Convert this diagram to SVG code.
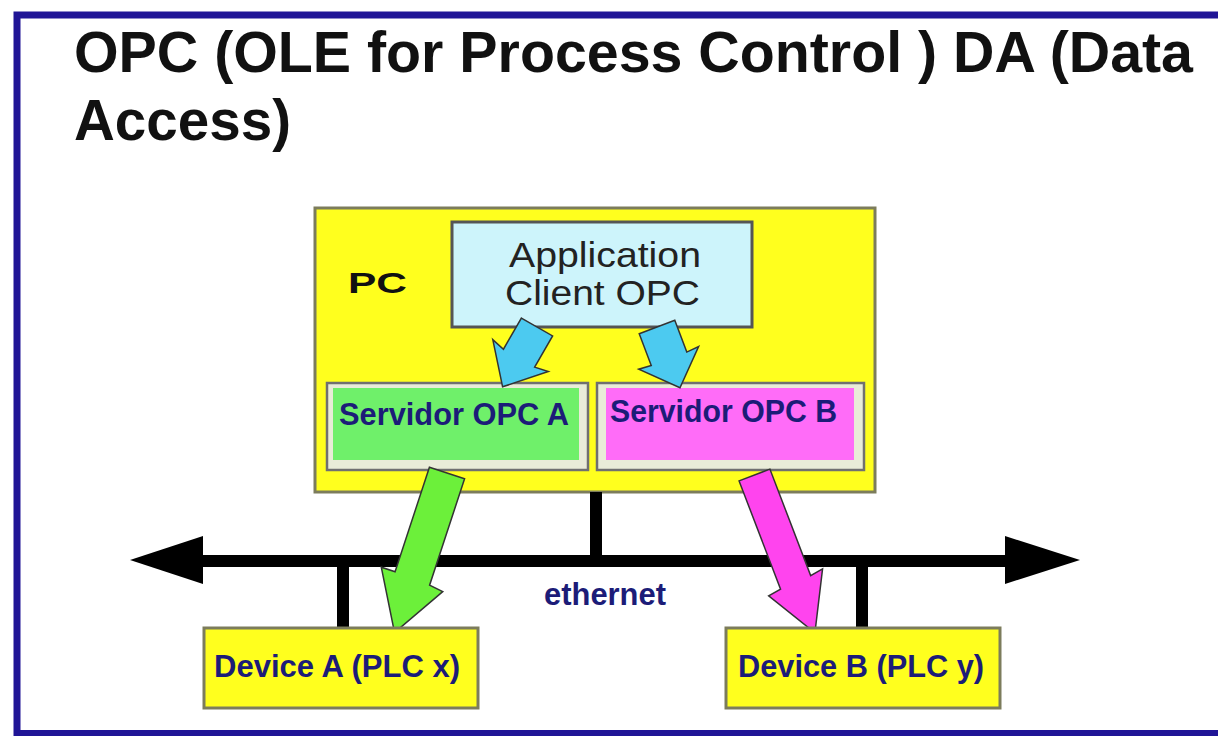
<svg xmlns="http://www.w3.org/2000/svg" width="1218" height="736" viewBox="0 0 1218 736">
<style>
.title{font-family:"Liberation Sans",Arial,sans-serif;font-weight:bold;font-size:57px;fill:#111}
.lbl{font-family:"Liberation Sans",Arial,sans-serif;font-weight:bold;font-size:31px;fill:#1c1c78}
.srv{font-size:32px}
.app{font-family:"Liberation Sans",Arial,sans-serif;font-size:35px;fill:#222}
.pc{font-family:"Liberation Sans",Arial,sans-serif;font-weight:bold;font-size:30px;fill:#111}
.ybox{fill:#ffff1e;stroke:#7c7c5c;stroke-width:3}
.sbox{fill:#e9ecd8;stroke:#707070;stroke-width:2.5}
.bar{stroke:#000;stroke-width:12;fill:none}
.fat{stroke:#333;stroke-width:1.5;stroke-linejoin:miter}
</style>
<rect width="1218" height="736" fill="#ffffff"/>
<path d="M1220,15 H17 V733.5 H1220" fill="none" stroke="#201596" stroke-width="7"/>
<g id="title">
<text class="title" x="74" y="72" textLength="1119" lengthAdjust="spacingAndGlyphs">OPC (OLE for Process Control ) DA (Data</text>
<text class="title" x="74" y="140" textLength="217" lengthAdjust="spacingAndGlyphs">Access)</text>
</g>
<g id="pc">
<rect class="ybox" x="315" y="208" width="560" height="284"/>
<text class="pc" x="348" y="293" textLength="59" lengthAdjust="spacingAndGlyphs">PC</text>
</g>
<g id="connectors">
<line class="bar" x1="596" y1="492" x2="596" y2="561"/>
<line class="bar" x1="195" y1="561" x2="1012" y2="561"/>
<polygon points="130,560 203,536 203,584" fill="#000"/>
<polygon points="1080,560 1005,536 1005,584" fill="#000"/>
<line class="bar" x1="343" y1="561" x2="343" y2="628"/>
<line class="bar" x1="862" y1="561" x2="862" y2="628"/>
</g>
<g id="app">
<rect x="452" y="222" width="300" height="105" fill="#cdf4fb" stroke="#555" stroke-width="3"/>
<text class="app" x="509" y="267" textLength="192" lengthAdjust="spacingAndGlyphs">Application</text>
<text class="app" x="505" y="305" textLength="195" lengthAdjust="spacingAndGlyphs">Client OPC</text>
</g>
<g id="servA">
<rect class="sbox" x="327" y="383" width="261" height="87"/>
<rect x="333" y="388" width="246" height="72" fill="#6ff06a"/>
<text class="lbl srv" x="339" y="425" textLength="230" lengthAdjust="spacingAndGlyphs">Servidor OPC A</text>
</g>
<g id="servB">
<rect class="sbox" x="597" y="383" width="267" height="87"/>
<rect x="606" y="388" width="248" height="72" fill="#ff6cf8"/>
<text class="lbl srv" x="610" y="422" textLength="227" lengthAdjust="spacingAndGlyphs">Servidor OPC B</text>
</g>
<g id="flows">
<polygon class="fat" fill="#4ccaf0" transform="translate(537,327) rotate(29.9)" points="-18,0 18,0 18,36 32,33 0,69 -32,33 -18,36"/>
<polygon class="fat" fill="#4ccaf0" transform="translate(657,327) rotate(-20.7)" points="-19,0 19,0 19,34 32,33 0,65 -32,33 -19,34"/>
<polygon class="fat" fill="#6cf03a" transform="translate(447,473) rotate(18.2)" points="-18.5,0 18.5,0 18.5,112 33,114 0,168 -33,110 -18.5,110"/>
<polygon class="fat" fill="#ff44ee" transform="translate(754.5,475) rotate(-20.95)" points="-16.5,0 16.5,0 16.5,114 30,112 0,169 -30,118 -16.5,116"/>
</g>
<g id="devA">
<rect class="ybox" x="204" y="628" width="274" height="80"/>
<text class="lbl" x="214" y="677" textLength="246" lengthAdjust="spacingAndGlyphs">Device A (PLC x)</text>
</g>
<g id="devB">
<rect class="ybox" x="726" y="628" width="274" height="80"/>
<text class="lbl" x="738" y="677" textLength="246" lengthAdjust="spacingAndGlyphs">Device B (PLC y)</text>
</g>
<g id="ethernet">
<text class="lbl" x="544" y="605" textLength="122" lengthAdjust="spacingAndGlyphs">ethernet</text>
</g>
</svg>
